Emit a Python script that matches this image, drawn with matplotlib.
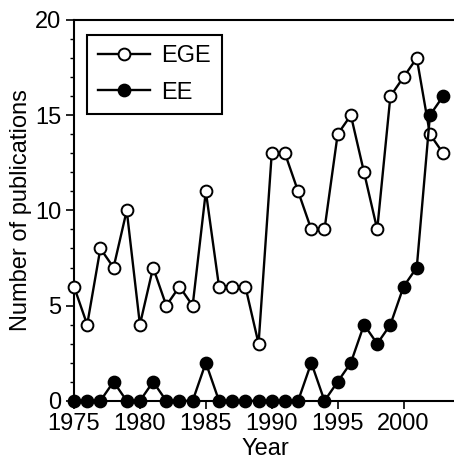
import matplotlib
matplotlib.use("Agg")
import matplotlib.pyplot as plt
from matplotlib.ticker import MultipleLocator

years = list(range(1975, 2004))
ege = [6, 4, 8, 7, 10, 4, 7, 5, 6, 5, 11, 6, 6, 6, 3, 13, 13, 11, 9, 9,
       14, 15, 12, 9, 16, 17, 18, 14, 13]
ee = [0, 0, 0, 1, 0, 0, 1, 0, 0, 0, 2, 0, 0, 0, 0, 0, 0, 0, 2, 0,
      1, 2, 4, 3, 4, 6, 7, 15, 16]
xticks = [1975, 1980, 1985, 1990, 1995, 2000]
yticks = [0, 5, 10, 15, 20]

plt.rcParams['font.family'] = ['Liberation Sans', 'DejaVu Sans']

fig = plt.figure(figsize=(4.54, 4.65), dpi=100)
ax = fig.add_axes([0.163, 0.138, 0.845, 0.819])

ax.plot(years, ege, '-o', color='black', mfc='white', mec='black',
        ms=8.5, mew=1.4, lw=1.7, clip_on=False, zorder=3, label='EGE')
ax.plot(years, ee, '-o', color='black', mfc='black', mec='black',
        ms=8.5, mew=1.4, lw=1.7, clip_on=False, zorder=4, label='EE')

ax.set_xlim(1975, 2004.1)
ax.set_ylim(0, 20)
ax.set_xticks(xticks)
ax.set_yticks(yticks)
ax.yaxis.set_minor_locator(MultipleLocator(1))
ax.tick_params(axis='both', which='major', direction='out', length=6,
               width=1.2, labelsize=17, pad=3)
ax.tick_params(axis='y', which='minor', direction='out', length=3, width=1.0)
for s in ['left', 'bottom', 'top']:
    ax.spines[s].set_linewidth(1.5)
ax.spines['right'].set_visible(False)

ax.set_xlabel('Year', fontsize=17, labelpad=2)
ax.set_ylabel('Number of publications', fontsize=17, labelpad=2)

leg = ax.legend(loc='upper left', bbox_to_anchor=(0.034, 0.961), fontsize=17,
                frameon=True, fancybox=False, edgecolor='black', framealpha=1,
                handlelength=2.2, handletextpad=0.5, borderpad=0.45,
                labelspacing=0.6, borderaxespad=0)
leg.get_frame().set_linewidth(1.5)

fig.savefig('out.png', dpi=100)
